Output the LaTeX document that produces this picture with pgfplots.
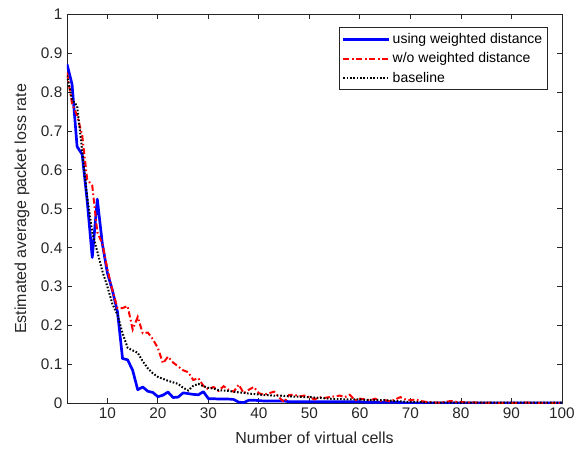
\documentclass[border=0pt]{standalone}
\usepackage{fontspec}
\setmainfont{Liberation Sans}
\setsansfont{Liberation Sans}
\usepackage{pgfplots}
\usepackage{pgfplotstable}
\pgfplotsset{compat=1.18}
\definecolor{axgray}{RGB}{38,38,38}

\pgfplotstableread{
x w wo b
2 0.872 0.850 0.843
3 0.820 0.770 0.780
4 0.660 0.740 0.765
5 0.640 0.690 0.650
6 0.520 0.575 0.530
7 0.375 0.560 0.440
8 0.525 0.440 0.390
9 0.410 0.410 0.340
10 0.335 0.345 0.300
11 0.290 0.290 0.255
12 0.235 0.245 0.228
13 0.115 0.245 0.180
14 0.112 0.250 0.143
15 0.085 0.190 0.136
16 0.035 0.222 0.130
17 0.042 0.180 0.108
18 0.031 0.182 0.090
19 0.028 0.165 0.077
20 0.017 0.142 0.068
21 0.021 0.103 0.063
22 0.029 0.120 0.058
23 0.015 0.105 0.054
24 0.016 0.095 0.050
25 0.027 0.085 0.040
26 0.025 0.080 0.033
27 0.023 0.060 0.045
28 0.022 0.065 0.050
29 0.030 0.045 0.044
30 0.012 0.036 0.040
31 0.012 0.042 0.038
32 0.011 0.032 0.034
33 0.011 0.044 0.033
34 0.011 0.035 0.032
35 0.010 0.030 0.030
36 0.003 0.048 0.028
37 0.002 0.026 0.027
38 0.008 0.035 0.025
39 0.008 0.042 0.024
40 0.007 0.026 0.023
41 0.006 0.022 0.021
42 0.006 0.026 0.021
43 0.006 0.030 0.020
44 0.006 0.015 0.020
45 0.006 0.003 0.019
46 0.004 0.022 0.018
47 0.004 0.022 0.017
48 0.004 0.018 0.017
49 0.004 0.020 0.016
50 0.004 0.016 0.016
51 0.004 0.010 0.015
52 0.004 0.016 0.014
53 0.004 0.014 0.013
54 0.004 0.016 0.012
55 0.004 0.018 0.011
56 0.004 0.020 0.011
57 0.004 0.016 0.010
58 0.004 0.022 0.010
59 0.004 0.008 0.010
60 0.004 0.012 0.010
61 0.003 0.010 0.009
62 0.003 0.008 0.009
63 0.003 0.012 0.008
64 0.003 0.006 0.008
65 0.003 0.008 0.008
66 0.003 0.005 0.007
67 0.003 0.010 0.006
68 0.002 0.016 0.005
69 0.001 0.010 0.004
70 0.001 0.008 0.004
71 0.001 0.010 0.003
72 0.001 0.006 0.003
73 0.001 0.004 0.002
74 0.001 0.003 0.002
75 0.001 0.002 0.002
76 0.001 0.002 0.002
77 0.001 0.004 0.002
78 0.001 0.006 0.002
79 0.001 0.004 0.002
80 0.001 0.004 0.002
81 0.001 0.002 0.002
82 0.001 0.003 0.002
83 0.001 0.002 0.002
84 0.001 0.002 0.002
85 0.001 0.001 0.002
86 0.001 0.002 0.002
87 0.001 0.001 0.002
88 0.001 0.001 0.002
89 0.001 0.002 0.002
90 0.001 0.001 0.002
91 0.001 0.001 0.002
92 0.001 0.001 0.002
93 0.001 0.002 0.002
94 0.001 0.001 0.002
95 0.001 0.001 0.002
96 0.001 0.001 0.002
97 0.001 0.001 0.002
98 0.001 0.001 0.002
99 0.001 0.001 0.002
100 0.001 0.001 0.002
}\losstable

\begin{document}
\begin{tikzpicture}
\path[use as bounding box] (-50.25pt,-36pt) rectangle (386.25pt,302.5pt);
\begin{axis}[
  scale only axis,
  width=371.25pt, height=291.75pt,
  xmin=2, xmax=100, ymin=0, ymax=1,
  xtick={10,20,...,100},
  ytick={0,0.1,...,1},
  yticklabels={0,0.1,0.2,0.3,0.4,0.5,0.6,0.7,0.8,0.9,1},
  tick align=inside,
  major tick length=3.75pt,
  axis line style={axgray, line width=0.7pt},
  tick style={axgray, line width=0.7pt},
  /pgf/number format/assume math mode=true,
  tick label style={font=\fontsize{11.5}{13}\selectfont, text=axgray},
  label style={font=\fontsize{12}{14}\selectfont, text=axgray},
  xlabel={Number of virtual cells},
  ylabel={Estimated average packet loss rate},
  xlabel style={at={(axis description cs:0.5,-0.0874)}, anchor=center},
  ylabel style={at={(axis description cs:-0.0909,0.5)}, anchor=center},
  legend style={at={(rel axis cs:0.9717,0.9666)}, anchor=north east,
    draw=axgray, line width=0.7pt, font=\fontsize{10.5}{12}\selectfont,
    inner sep=2pt, row sep=1.5pt},
  legend cell align=left,
  legend image code/.code={\draw[#1] (0pt,0pt) -- (34pt,0pt);},
]
\addplot[blue, line width=2pt, line join=round] table[x=x, y=w] {\losstable};
\addplot[red, line width=1.5pt, dash pattern=on 4.5pt off 2pt on 1.2pt off 2pt] table[x=x, y=wo] {\losstable};
\addplot[black, line width=1.5pt, dash pattern=on 1.2pt off 1.3pt] table[x=x, y=b] {\losstable};
\legend{using weighted distance, w/o weighted distance, baseline}
\end{axis}
\end{tikzpicture}
\end{document}
